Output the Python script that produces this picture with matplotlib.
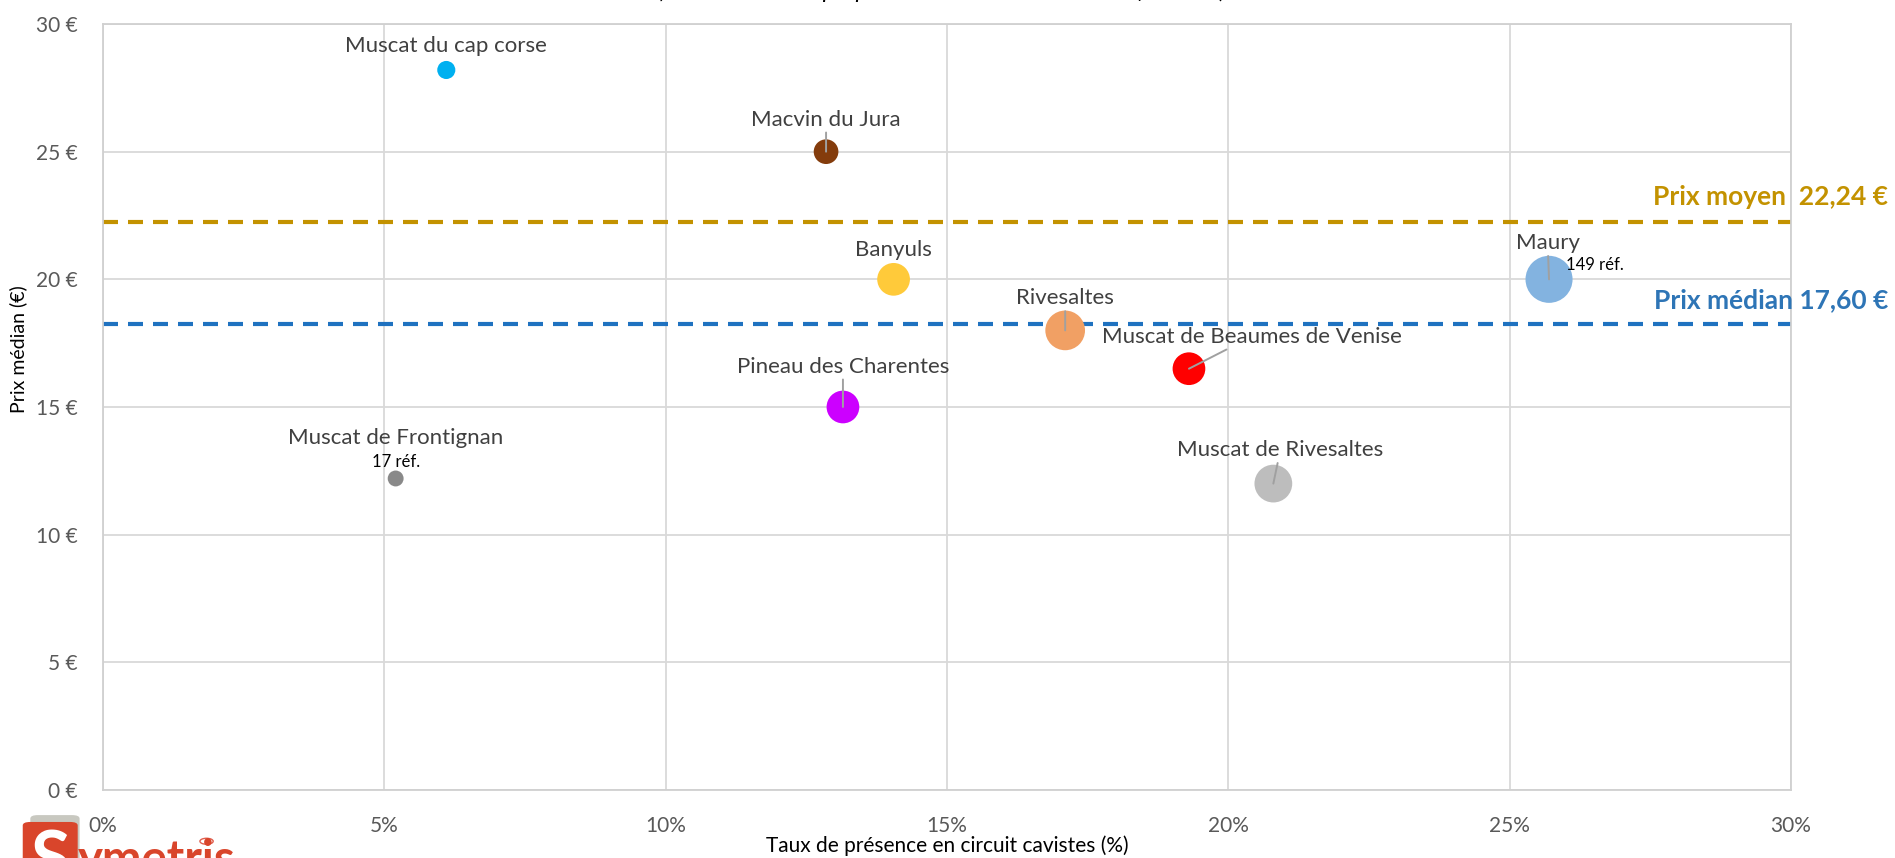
import matplotlib
matplotlib.use("Agg")
import matplotlib.pyplot as plt
from matplotlib.patches import FancyBboxPatch, Circle
from matplotlib.ticker import FuncFormatter

# Données
appellations = ["Muscat du cap corse", "Macvin du Jura", "Banyuls", "Rivesaltes",
                "Muscat de Beaumes de Venise", "Pineau des Charentes",
                "Muscat de Frontignan", "Muscat de Rivesaltes", "Maury"]
taux_presence = [6.1, 12.85, 14.05, 17.1, 19.3, 13.15, 5.2, 20.8, 25.7]
prix_median = [28.2, 25.0, 20.0, 18.0, 16.5, 15.0, 12.2, 12.0, 20.0]
nb_refs = [22, 41, 72, 106, 72, 72, 17, 96, 149]
couleurs = ["#00B0F0", "#843C0C", "#FFCA3A", "#F1A064", "#FF0000", "#CC00FF",
            "#898989", "#BDBDBD", "#83B3E0"]

prix_moyen = 22.24
ligne_mediane = 18.25
texte_moyen = "Prix moyen  22,24 €"
texte_median = "Prix médian 17,60 €"

# position des étiquettes (décalage en points depuis la bulle)
decalages = [(0, 17), (0, 23), (0, 21), (0, 23), (45, 23), (0, 29), (0, 29), (5, 24), (-1, 26)]
avec_trait = [False, True, False, True, True, True, False, True, True]

plt.rcParams['font.family'] = ['Lato', 'DejaVu Sans']

fig = plt.figure(figsize=(18.95, 8.58), dpi=100)
ax = fig.add_axes([0.0544, 0.0793, 0.8907, 0.8927])

ax.set_xlim(0, 30)
ax.set_ylim(0, 30)
ax.set_xticks(range(0, 31, 5))
ax.set_yticks(range(0, 31, 5))
ax.xaxis.set_major_formatter(FuncFormatter(lambda v, p: f"{v:.0f}%"))
ax.yaxis.set_major_formatter(FuncFormatter(lambda v, p: f"{v:.0f} €"))
ax.tick_params(length=0, labelsize=15, colors="#595959")
ax.tick_params(axis="x", pad=19)
ax.tick_params(axis="y", pad=18)
ax.grid(True, color="#D9D9D9", linewidth=1.3)
ax.set_axisbelow(True)
for s in ax.spines.values():
    s.set_color("#D0D0D0")
    s.set_linewidth(1.3)

ax.axhline(prix_moyen, color="#C39200", linestyle=(0, (3.6, 2.4)), linewidth=3, zorder=2)
ax.axhline(ligne_mediane, color="#1F72C0", linestyle=(0, (3.6, 2.4)), linewidth=3, zorder=2)

taille = [r * 7.7 for r in nb_refs]
ax.scatter(taux_presence, prix_median, s=taille, c=couleurs, linewidths=0, zorder=3)

for nom, x, y, d, trait in zip(appellations, taux_presence, prix_median, decalages, avec_trait):
    fleche = dict(arrowstyle="-", color="#A0A0A0", lw=1.4, shrinkA=0, shrinkB=0) if trait else None
    ax.annotate(nom, (x, y), xytext=d, textcoords="offset points",
                ha="center", va="center", fontsize=16, color="#404040", zorder=4,
                arrowprops=fleche)

ax.annotate("17 réf.", (5.2, 12.2), xytext=(0, 12), textcoords="offset points",
            ha="center", va="center", fontsize=12, color="black", zorder=4)
ax.annotate("149 réf.", (25.7, 20.0), xytext=(33, 10), textcoords="offset points",
            ha="center", va="center", fontsize=12, color="black", zorder=4)

fig.text(0.9965, 0.77, texte_moyen, ha="right", va="center", fontsize=19,
         fontweight="bold", color="#C39200")
fig.text(0.9965, 0.65, texte_median, ha="right", va="center", fontsize=19,
         fontweight="bold", color="#2E75B6")

ax.set_ylabel("Prix médian (€)", fontsize=14, color="black", va="center")
ax.yaxis.set_label_coords(-0.05, 0.575)
ax.set_xlabel("Taux de présence en circuit cavistes (%)", fontsize=15, color="black", va="center")
ax.xaxis.set_label_coords(0.5, -0.073)

# titre coupé en haut de l'image
fig.text(0.497, 1.011, "(Taille des bulles proportionnelle au nombre de références)",
         ha="center", va="center", fontsize=17, style="italic", color="black")

# logo Symetris coupé en bas
fig.patches.append(FancyBboxPatch((0.016, -0.02), 0.026, 0.07, boxstyle="round,pad=0,rounding_size=0.004",
                                  transform=fig.transFigure, facecolor="#C8C8C0", edgecolor="none"))
fig.patches.append(FancyBboxPatch((0.012, -0.03), 0.029, 0.072, boxstyle="round,pad=0,rounding_size=0.004",
                                  transform=fig.transFigure, facecolor="#D9452B", edgecolor="none"))
fig.text(0.0265, -0.045, "S", ha="center", va="bottom", fontsize=52, fontweight="bold", color="white")
fig.text(0.041, -0.028, "ymetris", ha="left", va="bottom", fontsize=34, fontweight="bold", color="#D9452B")
fig.patches.append(Circle((0.109, 0.0195), 0.0035, transform=fig.transFigure,
                          facecolor="none", edgecolor="#E06050", linewidth=1))

fig.savefig("out.png", dpi=100)
